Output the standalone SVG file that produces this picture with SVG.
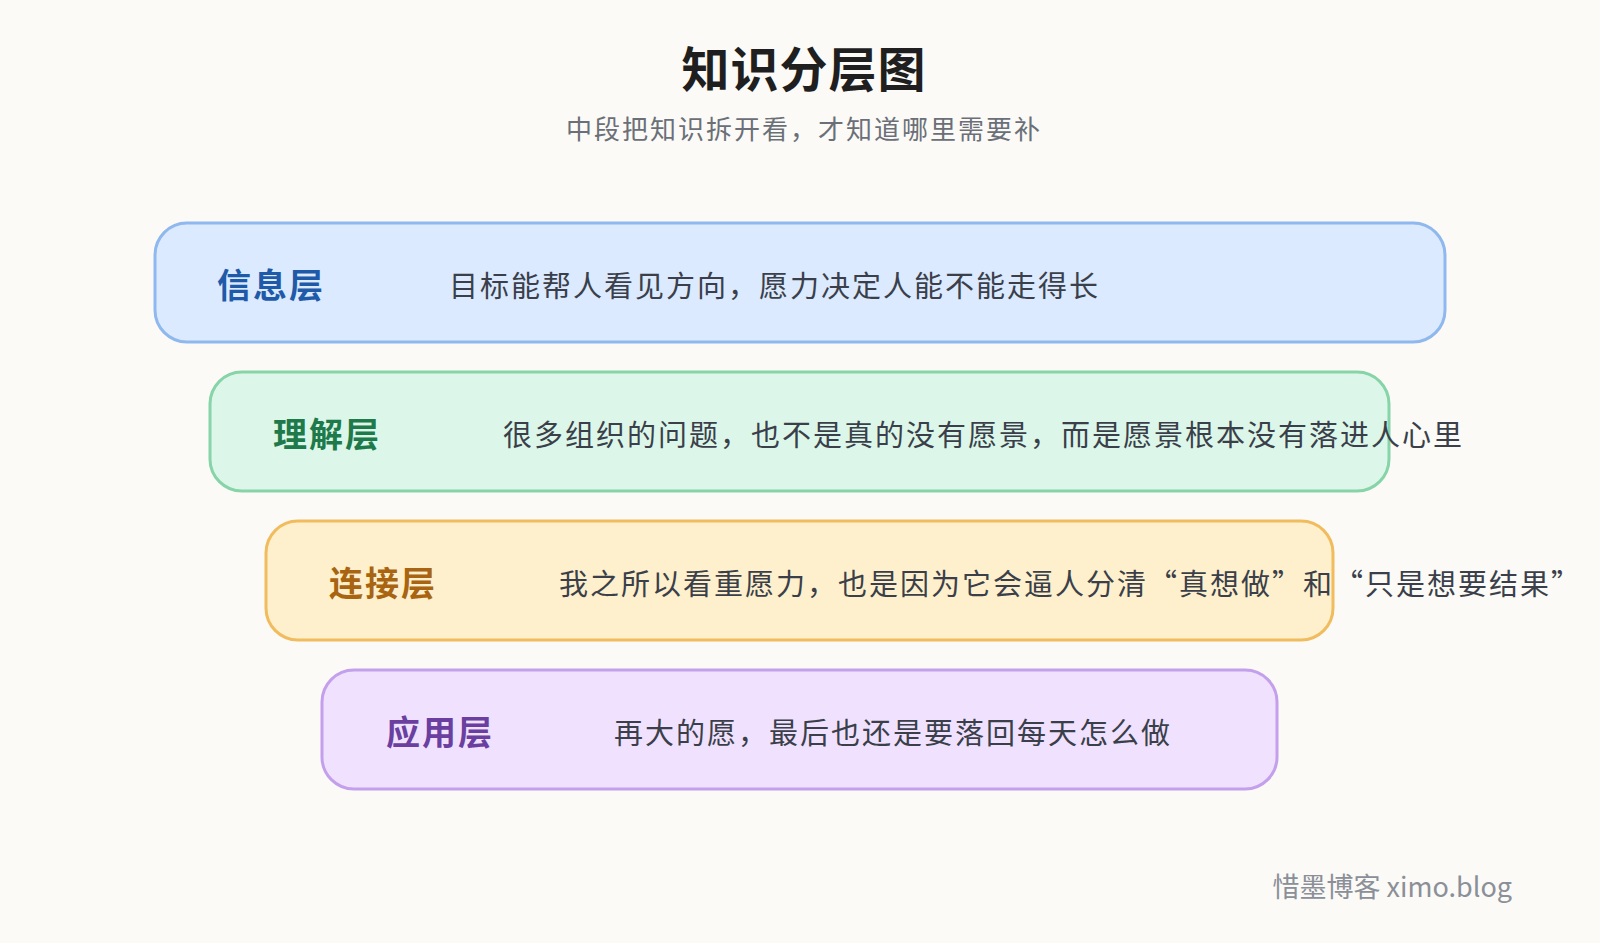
<svg xmlns="http://www.w3.org/2000/svg" width="1600" height="943" viewBox="0 0 1600 943">
<style>
text{font-family:"Noto Sans CJK SC","Noto Sans",sans-serif}
.lab{font-size:34px;font-weight:bold;dominant-baseline:central;letter-spacing:2px}
.txt{font-size:29px;fill:#3a3f4a;dominant-baseline:central;letter-spacing:2px}
.box{stroke-width:3}
</style>
<rect width="1600" height="943" fill="#fbfaf6"/>
<text x="804" y="66" text-anchor="middle" dominant-baseline="central" font-size="48" font-weight="bold" fill="#1f1f1f" letter-spacing="1">知识分层图</text>
<text x="804" y="127" text-anchor="middle" dominant-baseline="central" font-size="26" fill="#6a6f78" letter-spacing="2">中段把知识拆开看，才知道哪里需要补</text>
<g id="layer1">
<rect class="box" x="155" y="223" width="1290" height="119" rx="32" fill="#dbeafe" stroke="#8fb8ee"/>
<text class="lab" x="217" y="283" fill="#1e5aa8">信息层</text>
<text class="txt" x="449" y="284">目标能帮人看见方向，愿力决定人能不能走得长</text>
</g>
<g id="layer2">
<rect class="box" x="210" y="372" width="1179" height="119" rx="32" fill="#dcf7e9" stroke="#86d4a8"/>
<text class="lab" x="273" y="432" fill="#1e7a4a">理解层</text>
<text class="txt" x="503" y="433">很多组织的问题，也不是真的没有愿景，而是愿景根本没有落进人心里</text>
</g>
<g id="layer3">
<rect class="box" x="266" y="521" width="1067" height="119" rx="32" fill="#fef0cc" stroke="#f0bc5e"/>
<text class="lab" x="329" y="581" fill="#a86410">连接层</text>
<text class="txt" x="559" y="582">我之所以看重愿力，也是因为它会逼人分清“真想做”和“只是想要结果”</text>
</g>
<g id="layer4">
<rect class="box" x="322" y="670" width="955" height="119" rx="32" fill="#f0e2fe" stroke="#c4a0ec"/>
<text class="lab" x="386" y="730" fill="#6b3fa0">应用层</text>
<text class="txt" x="614" y="731">再大的愿，最后也还是要落回每天怎么做</text>
</g>
<g id="connectors"/>
<text x="1512" y="885" text-anchor="end" dominant-baseline="central" font-size="27" fill="#8a8f98">惜墨博客 ximo.blog</text>
</svg>
